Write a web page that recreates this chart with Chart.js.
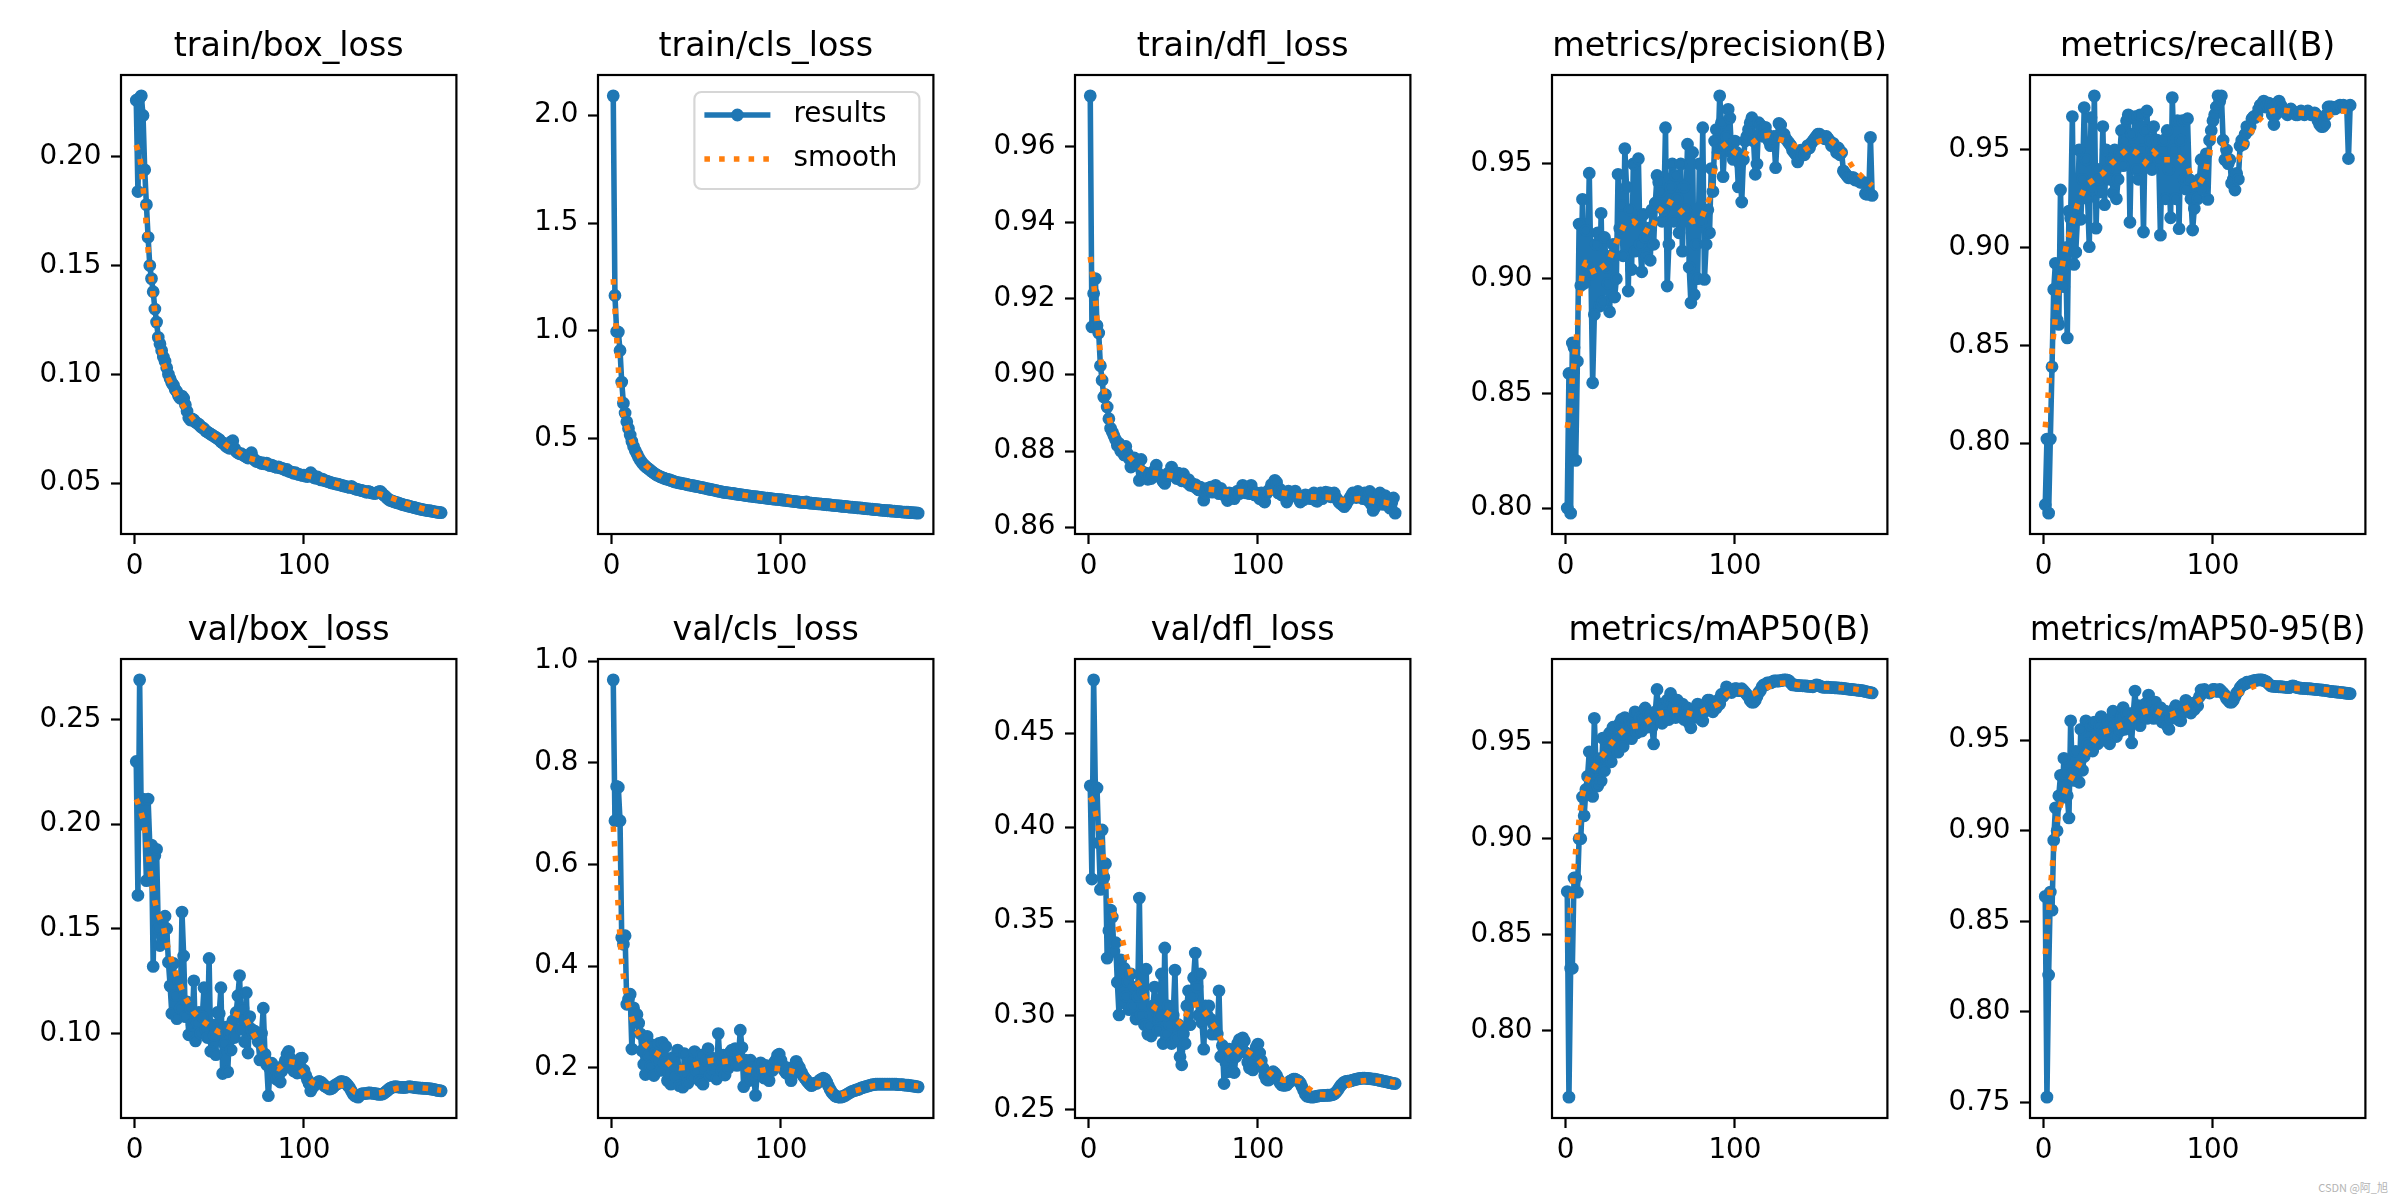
<!DOCTYPE html>
<html>
<head>
<meta charset="utf-8">
<script src="https://cdn.jsdelivr.net/npm/chart.js@4.4.1/dist/chart.umd.min.js"></script>
<style>
  html, body { margin: 0; padding: 0; background: #fff; }
  #fig { position: relative; width: 2400px; height: 1200px; overflow: hidden; background: #fff; }
  #fig canvas { position: absolute; }
  .mark { position: absolute; right: 12px; bottom: 5px; font: 11px "Noto Sans CJK SC", "DejaVu Sans", sans-serif; color: #b4b4b4; }
</style>
</head>
<body>
<div id="fig"><div class="mark">CSDN @阿_旭</div></div>
<script>
// epochs 1..181, smooth curve read at fewer epochs
const epochs = [];
for (let e = 1; e <= 181; e++) epochs.push(e);
const smoothEpochs = [1, 2, 3, 4, 5, 6, 8, 10, 12, 14, 17, 20, 25, 30, 35, 40, 45, 50, 55, 60, 65, 70, 75, 80,
  85, 90, 95, 100, 105, 110, 115, 120, 125, 130, 135, 140, 145, 150, 155, 160, 165, 170, 175, 181];

const titles = ['train/box_loss', 'train/cls_loss', 'train/dfl_loss', 'metrics/precision(B)', 'metrics/recall(B)',
  'val/box_loss', 'val/cls_loss', 'val/dfl_loss', 'metrics/mAP50(B)', 'metrics/mAP50-95(B)'];

const xTickLabels = ['0', '100'];

const trainBoxLoss = [
  0.226, 0.184, 0.227, 0.228, 0.219, 0.194, 0.178, 0.163, 0.150, 0.144,
  0.138, 0.130, 0.124, 0.117, 0.114, 0.111, 0.108, 0.106, 0.103, 0.100,
  0.098, 0.096, 0.095, 0.093, 0.092, 0.090, 0.089, 0.090, 0.089, 0.086,
  0.083, 0.080, 0.079, 0.0795, 0.079, 0.078, 0.0775, 0.077, 0.076, 0.0755,
  0.075, 0.074, 0.0735, 0.073, 0.0725, 0.072, 0.0715, 0.071, 0.0705, 0.070,
  0.069, 0.0685, 0.068, 0.067, 0.0665, 0.066, 0.069, 0.0695, 0.066, 0.0645,
  0.064, 0.0635, 0.0635, 0.063, 0.0625, 0.062, 0.0615, 0.0625, 0.064, 0.0615,
  0.0605, 0.060, 0.0598, 0.0595, 0.059, 0.0593, 0.0588, 0.0592, 0.0585, 0.058,
  0.0583, 0.0578, 0.0575, 0.0572, 0.0575, 0.057, 0.0568, 0.0565, 0.056, 0.0563,
  0.0555, 0.0552, 0.055, 0.0545, 0.0548, 0.0542, 0.054, 0.0538, 0.0535, 0.0537,
  0.0532, 0.053, 0.0533, 0.0548, 0.0538, 0.0525, 0.0522, 0.0528, 0.052, 0.0515,
  0.0518, 0.0512, 0.051, 0.0508, 0.0505, 0.0502, 0.050, 0.0498, 0.0496, 0.0495,
  0.0493, 0.049, 0.0488, 0.0486, 0.0484, 0.0482, 0.048, 0.0485, 0.0478, 0.0474,
  0.0472, 0.047, 0.0468, 0.0466, 0.0464, 0.0462, 0.0458, 0.0462, 0.0458, 0.0455,
  0.0453, 0.0452, 0.0455, 0.046, 0.0462, 0.0455, 0.0445, 0.044, 0.0432, 0.0425,
  0.042, 0.0418, 0.0415, 0.0412, 0.041, 0.0408, 0.0405, 0.0402, 0.040, 0.0398,
  0.0396, 0.0394, 0.0392, 0.039, 0.0388, 0.0386, 0.0384, 0.0382, 0.038, 0.0378,
  0.0377, 0.0375, 0.0374, 0.0373, 0.0372, 0.037, 0.0369, 0.0367, 0.0366, 0.0365,
  0.0364];
const trainBoxLossSmooth = [0.2055, 0.203, 0.200, 0.195, 0.186, 0.178, 0.157, 0.143, 0.128, 0.116, 0.105, 0.098,
  0.090, 0.084, 0.079, 0.076, 0.073, 0.070, 0.067, 0.065, 0.062, 0.061, 0.060, 0.0585, 0.0575, 0.0562, 0.0548,
  0.0538, 0.0528, 0.0518, 0.0508, 0.0495, 0.0486, 0.0478, 0.0467, 0.0458, 0.045, 0.0437, 0.0422, 0.0407,
  0.0395, 0.0383, 0.0374, 0.0362];

const trainClsLoss = [
  2.09, 1.164, 0.997, 0.994, 0.909, 0.762, 0.664, 0.619, 0.578, 0.547,
  0.516, 0.487, 0.463, 0.445, 0.428, 0.412, 0.399, 0.388, 0.379, 0.371,
  0.365, 0.359, 0.352, 0.346, 0.340, 0.334, 0.330, 0.326, 0.322, 0.319,
  0.316, 0.313, 0.311, 0.309, 0.306, 0.303, 0.300, 0.298, 0.296, 0.294,
  0.293, 0.291, 0.290, 0.288, 0.286, 0.284, 0.283, 0.281, 0.280, 0.278,
  0.277, 0.275, 0.273, 0.272, 0.270, 0.268, 0.266, 0.265, 0.263, 0.262,
  0.260, 0.258, 0.256, 0.255, 0.253, 0.251, 0.250, 0.249, 0.248, 0.247,
  0.246, 0.245, 0.243, 0.242, 0.241, 0.240, 0.239, 0.238, 0.236, 0.235,
  0.234, 0.233, 0.232, 0.231, 0.230, 0.229, 0.228, 0.227, 0.226, 0.225,
  0.224, 0.223, 0.222, 0.221, 0.220, 0.219, 0.218, 0.218, 0.217, 0.216,
  0.215, 0.214, 0.213, 0.212, 0.211, 0.210, 0.209, 0.208, 0.207, 0.206,
  0.205, 0.204, 0.204, 0.203, 0.206, 0.202, 0.201, 0.200, 0.199, 0.199,
  0.198, 0.197, 0.197, 0.196, 0.195, 0.194, 0.193, 0.193, 0.192, 0.191,
  0.190, 0.189, 0.189, 0.188, 0.187, 0.186, 0.185, 0.185, 0.184, 0.183,
  0.182, 0.182, 0.181, 0.180, 0.179, 0.178, 0.178, 0.177, 0.176, 0.175,
  0.174, 0.174, 0.173, 0.172, 0.171, 0.170, 0.170, 0.169, 0.168, 0.167,
  0.167, 0.166, 0.165, 0.165, 0.164, 0.163, 0.163, 0.162, 0.161, 0.161,
  0.160, 0.159, 0.159, 0.158, 0.158, 0.157, 0.156, 0.156, 0.155, 0.155,
  0.154];
const trainClsLossSmooth = [1.24, 1.10, 0.97, 0.83, 0.70, 0.64, 0.578, 0.53, 0.488, 0.452, 0.410, 0.376,
  0.345, 0.322, 0.306, 0.295, 0.286, 0.278, 0.270, 0.262, 0.253, 0.247, 0.241, 0.235, 0.230, 0.225, 0.220,
  0.216, 0.212, 0.207, 0.203, 0.199, 0.195, 0.191, 0.188, 0.184, 0.180, 0.176, 0.172, 0.168, 0.164, 0.161,
  0.158, 0.155];

const trainDflLoss = [
  0.9733, 0.9126, 0.9214, 0.9253, 0.913, 0.911, 0.9024, 0.8986, 0.8942, 0.8948,
  0.8916, 0.8885, 0.886, 0.885, 0.884, 0.883, 0.8815, 0.882, 0.880, 0.8806,
  0.879, 0.8812, 0.8793, 0.878, 0.8758, 0.8775, 0.8782, 0.8768, 0.8762, 0.8723,
  0.8778, 0.8745, 0.8730, 0.8742, 0.8726, 0.8735, 0.8728, 0.8738, 0.8750, 0.8763,
  0.8742, 0.8735, 0.8728, 0.8720, 0.8715, 0.8730, 0.8742, 0.8738, 0.8758, 0.8745,
  0.8735, 0.8728, 0.8742, 0.8730, 0.8722, 0.8740, 0.8728, 0.8718, 0.8725, 0.8710,
  0.8715, 0.8708, 0.8712, 0.8702, 0.8698, 0.8705, 0.8695, 0.8671, 0.8690, 0.8702,
  0.8698, 0.8705, 0.8692, 0.8700, 0.8710, 0.8695, 0.8688, 0.8702, 0.8692, 0.8685,
  0.8680, 0.8670, 0.8690, 0.8682, 0.8688, 0.8675, 0.8690, 0.8695, 0.8688, 0.8698,
  0.8710, 0.8702, 0.8690, 0.8705, 0.8688, 0.8710, 0.8695, 0.8685, 0.8690, 0.8682,
  0.8675, 0.8690, 0.8670, 0.8666, 0.8688, 0.8695, 0.8700, 0.8712, 0.8705, 0.8723,
  0.8718, 0.8690, 0.8700, 0.8685, 0.8692, 0.8680, 0.8666, 0.8695, 0.8690, 0.8685,
  0.8688, 0.8695, 0.8682, 0.8675, 0.8666, 0.8680, 0.8672, 0.8685, 0.8678, 0.8682,
  0.8675, 0.8685, 0.8690, 0.8670, 0.8668, 0.8680, 0.8690, 0.8675, 0.8685, 0.8692,
  0.8688, 0.8690, 0.8680, 0.8684, 0.8690, 0.8678, 0.8672, 0.8665, 0.8662, 0.8658,
  0.8654, 0.8660, 0.8668, 0.8675, 0.8682, 0.8690, 0.8685, 0.8678, 0.8694, 0.8688,
  0.8680, 0.8675, 0.8690, 0.8685, 0.8670, 0.8694, 0.8660, 0.8644, 0.8652, 0.8662,
  0.8675, 0.8690, 0.8668, 0.8660, 0.8683, 0.8670, 0.8658, 0.8650, 0.8665, 0.8677,
  0.8637];
const trainDflLossSmooth = [0.931, 0.9275, 0.924, 0.920, 0.9144, 0.9104, 0.901, 0.8935, 0.889, 0.8855, 0.8825, 0.8808,
  0.878, 0.8758, 0.8745, 0.8742, 0.8738, 0.8734, 0.8724, 0.8714, 0.8705, 0.870, 0.8698, 0.8694, 0.8692, 0.8694,
  0.8692, 0.8688, 0.869, 0.8694, 0.869, 0.8685, 0.8682, 0.868, 0.8679, 0.8679, 0.8677, 0.867, 0.8672, 0.8675,
  0.8671, 0.8667, 0.8665, 0.8658];

const precisionB = [
  0.800, 0.8587, 0.7978, 0.872, 0.870, 0.8208, 0.864, 0.9238, 0.897, 0.9346,
  0.898, 0.921, 0.905, 0.946, 0.902, 0.8546, 0.8844, 0.915, 0.920, 0.888,
  0.9285, 0.890, 0.918, 0.905, 0.898, 0.8856, 0.910, 0.915, 0.892, 0.900,
  0.9455, 0.922, 0.932, 0.910, 0.9567, 0.940, 0.8946, 0.930, 0.904, 0.950,
  0.912, 0.925, 0.9523, 0.915, 0.903, 0.928, 0.918, 0.910, 0.922, 0.908,
  0.930, 0.915, 0.933, 0.945, 0.942, 0.938, 0.925, 0.930, 0.9658, 0.8968,
  0.915, 0.940, 0.950, 0.925, 0.945, 0.935, 0.920, 0.950, 0.912, 0.940,
  0.930, 0.9586, 0.905, 0.8895, 0.955, 0.893, 0.915, 0.900, 0.950, 0.925,
  0.9658, 0.8997, 0.915, 0.930, 0.920, 0.948, 0.938, 0.960, 0.965, 0.955,
  0.9797, 0.968, 0.9445, 0.958, 0.962, 0.9738, 0.970, 0.955, 0.952, 0.960,
  0.955, 0.940, 0.950, 0.9334, 0.952, 0.960, 0.962, 0.965, 0.968, 0.9702,
  0.960, 0.9455, 0.950, 0.968, 0.967, 0.965, 0.962, 0.966, 0.963, 0.960,
  0.958, 0.960, 0.962, 0.9484, 0.962, 0.9677, 0.967, 0.962, 0.963, 0.961,
  0.960, 0.959, 0.958, 0.956, 0.955, 0.954, 0.9509, 0.953, 0.956, 0.955,
  0.954, 0.956, 0.958, 0.957, 0.959, 0.960, 0.961, 0.962, 0.963, 0.963,
  0.962, 0.962, 0.961, 0.962, 0.961, 0.960, 0.958, 0.959, 0.957, 0.955,
  0.957, 0.954, 0.955, 0.947, 0.946, 0.945, 0.944, 0.944, 0.944, 0.944,
  0.943, 0.943, 0.943, 0.942, 0.942, 0.942, 0.937, 0.9368, 0.937, 0.9616,
  0.9363];
const precisionBSmooth = [0.835, 0.840, 0.846, 0.857, 0.863, 0.871, 0.889, 0.904, 0.907, 0.907, 0.902, 0.904,
  0.907, 0.916, 0.924, 0.925, 0.922, 0.920, 0.929, 0.934, 0.932, 0.928, 0.925, 0.926, 0.935, 0.956, 0.959,
  0.955, 0.953, 0.959, 0.962, 0.9625, 0.961, 0.960, 0.958, 0.9555, 0.958, 0.960, 0.961, 0.958, 0.954, 0.948,
  0.9445, 0.9405];

const recallB = [
  0.7684, 0.802, 0.7641, 0.802, 0.839, 0.8786, 0.892, 0.863, 0.8607, 0.9295,
  0.8888, 0.880, 0.900, 0.8538, 0.9187, 0.915, 0.9671, 0.8914, 0.8977, 0.9145,
  0.950, 0.9145, 0.935, 0.9717, 0.945, 0.925, 0.9005, 0.9666, 0.930, 0.9777,
  0.910, 0.940, 0.935, 0.9285, 0.962, 0.922, 0.950, 0.940, 0.935, 0.945,
  0.928, 0.950, 0.925, 0.935, 0.948, 0.960, 0.942, 0.955, 0.965, 0.968,
  0.913, 0.958, 0.950, 0.967, 0.940, 0.935, 0.968, 0.950, 0.908, 0.960,
  0.970, 0.945, 0.955, 0.940, 0.962, 0.950, 0.955, 0.945, 0.9064, 0.950,
  0.955, 0.925, 0.960, 0.940, 0.9153, 0.9768, 0.950, 0.925, 0.965, 0.9097,
  0.955, 0.965, 0.935, 0.930, 0.966, 0.935, 0.925, 0.909, 0.920, 0.932,
  0.925, 0.935, 0.945, 0.930, 0.937, 0.948, 0.9247, 0.955, 0.960, 0.965,
  0.968, 0.972, 0.9777, 0.975, 0.9777, 0.955, 0.945, 0.950, 0.943, 0.945,
  0.933, 0.935, 0.9295, 0.938, 0.935, 0.952, 0.955, 0.953, 0.958, 0.962,
  0.960, 0.962, 0.966, 0.967, 0.9666, 0.968, 0.971, 0.973, 0.9734, 0.975,
  0.972, 0.973, 0.974, 0.972, 0.968, 0.963, 0.968, 0.974, 0.975, 0.973,
  0.971, 0.970, 0.969, 0.968, 0.969, 0.971, 0.970, 0.969, 0.968, 0.968,
  0.969, 0.970, 0.969, 0.968, 0.969, 0.970, 0.969, 0.968, 0.968, 0.969,
  0.968, 0.965, 0.963, 0.962, 0.962, 0.963, 0.968, 0.972, 0.972, 0.972,
  0.971, 0.971, 0.972, 0.972, 0.973, 0.972, 0.973, 0.972, 0.972, 0.9456,
  0.9729];
const recallBSmooth = [0.808, 0.817, 0.828, 0.838, 0.847, 0.856, 0.873, 0.886, 0.895, 0.903, 0.913, 0.922,
  0.932, 0.935, 0.938, 0.943, 0.947, 0.951, 0.9486, 0.9435, 0.949, 0.945, 0.945, 0.946, 0.942, 0.930, 0.937,
  0.956, 0.956, 0.944, 0.945, 0.955, 0.963, 0.968, 0.970, 0.9705, 0.970, 0.969, 0.9688, 0.9686, 0.967, 0.968,
  0.970, 0.9695];

const valBoxLoss = [
  0.230, 0.166, 0.269, 0.200, 0.212, 0.202, 0.173, 0.212, 0.190, 0.190,
  0.132, 0.185, 0.188, 0.150, 0.142, 0.155, 0.146, 0.156, 0.150, 0.134,
  0.1227, 0.1095, 0.1334, 0.118, 0.107, 0.125, 0.112, 0.158, 0.137, 0.108,
  0.115, 0.0993, 0.112, 0.104, 0.1251, 0.0964, 0.105, 0.110, 0.100, 0.108,
  0.1218, 0.102, 0.098, 0.1358, 0.0914, 0.104, 0.099, 0.0898, 0.110, 0.1095,
  0.1218, 0.0808, 0.095, 0.103, 0.0816, 0.100, 0.092, 0.106, 0.098, 0.110,
  0.118, 0.1276, 0.102, 0.112, 0.096, 0.1194, 0.0906, 0.108, 0.102, 0.100,
  0.101, 0.099, 0.096, 0.0873, 0.100, 0.112, 0.090, 0.085, 0.0702, 0.083,
  0.0857, 0.080, 0.083, 0.078, 0.080, 0.0767, 0.082, 0.085, 0.087, 0.090,
  0.0914, 0.088, 0.084, 0.082, 0.086, 0.081, 0.085, 0.088, 0.0881, 0.0824,
  0.080, 0.078, 0.076, 0.0725, 0.074, 0.075, 0.076, 0.0765, 0.077, 0.0767,
  0.076, 0.075, 0.0745, 0.074, 0.0734, 0.0735, 0.074, 0.075, 0.0755, 0.076,
  0.0765, 0.077, 0.0768, 0.0767, 0.076, 0.075, 0.074, 0.0725, 0.071, 0.0702,
  0.0698, 0.0695, 0.0705, 0.071, 0.0712, 0.0712, 0.0713, 0.0715, 0.0715, 0.0714,
  0.0713, 0.0712, 0.071, 0.0709, 0.0708, 0.0709, 0.0712, 0.0718, 0.0725, 0.0732,
  0.0738, 0.0742, 0.0744, 0.0745, 0.0744, 0.0743, 0.0742, 0.0742, 0.0741, 0.0742,
  0.0743, 0.0745, 0.0744, 0.0743, 0.0742, 0.0740, 0.0739, 0.0739, 0.0738, 0.0738,
  0.0737, 0.0737, 0.0736, 0.0735, 0.0734, 0.0733, 0.0731, 0.0729, 0.0727, 0.0726,
  0.0725];
const valBoxLossSmooth = [0.212, 0.210, 0.208, 0.205, 0.2025, 0.198, 0.186, 0.172, 0.163, 0.157, 0.151, 0.140,
  0.127, 0.117, 0.110, 0.106, 0.103, 0.1005, 0.101, 0.109, 0.108, 0.100, 0.093, 0.085, 0.0832, 0.0868, 0.086,
  0.0805, 0.0765, 0.075, 0.0742, 0.075, 0.0755, 0.072, 0.0711, 0.0712, 0.0716, 0.0725, 0.0737, 0.0741, 0.0741,
  0.0739, 0.0735, 0.0727];

const valClsLoss = [
  0.963, 0.686, 0.7535, 0.752, 0.686, 0.4565, 0.443, 0.460, 0.325, 0.335,
  0.345, 0.237, 0.318, 0.305, 0.305, 0.288, 0.267, 0.234, 0.207, 0.187,
  0.262, 0.225, 0.203, 0.245, 0.185, 0.230, 0.215, 0.248, 0.195, 0.250,
  0.210, 0.242, 0.175, 0.190, 0.168, 0.220, 0.200, 0.182, 0.235, 0.165,
  0.195, 0.162, 0.228, 0.188, 0.170, 0.205, 0.215, 0.180, 0.232, 0.195,
  0.210, 0.175, 0.225, 0.168, 0.200, 0.215, 0.238, 0.185, 0.220, 0.195,
  0.205, 0.178, 0.2674, 0.212, 0.195, 0.225, 0.186, 0.215, 0.200, 0.230,
  0.235, 0.210, 0.238, 0.205, 0.225, 0.274, 0.240, 0.163, 0.215, 0.195,
  0.175, 0.215, 0.200, 0.180, 0.146, 0.190, 0.205, 0.210, 0.195, 0.180,
  0.205, 0.190, 0.175, 0.200, 0.195, 0.210, 0.215, 0.225, 0.227, 0.215,
  0.205, 0.195, 0.190, 0.200, 0.185, 0.175, 0.190, 0.200, 0.213, 0.205,
  0.200, 0.192, 0.185, 0.180, 0.176, 0.172, 0.168, 0.165, 0.167, 0.170,
  0.1695, 0.172, 0.176, 0.178, 0.180, 0.178, 0.172, 0.165, 0.158, 0.152,
  0.148, 0.145, 0.1435, 0.1428, 0.1425, 0.143, 0.1445, 0.146, 0.148, 0.150,
  0.152, 0.154, 0.155, 0.156, 0.157, 0.158, 0.160, 0.161, 0.162, 0.163,
  0.164, 0.165, 0.166, 0.167, 0.167, 0.168, 0.168, 0.168, 0.168, 0.168,
  0.168, 0.168, 0.168, 0.168, 0.168, 0.168, 0.168, 0.168, 0.167, 0.167,
  0.167, 0.167, 0.166, 0.166, 0.166, 0.165, 0.165, 0.164, 0.164, 0.163,
  0.1627];
const valClsLossSmooth = [0.675, 0.629, 0.578, 0.51, 0.4565, 0.405, 0.355, 0.322, 0.297, 0.277, 0.261, 0.245,
  0.232, 0.222, 0.204, 0.200, 0.201, 0.207, 0.212, 0.215, 0.212, 0.214, 0.219, 0.197, 0.193, 0.196, 0.200,
  0.198, 0.195, 0.190, 0.178, 0.170, 0.168, 0.155, 0.147, 0.152, 0.156, 0.161, 0.165, 0.166, 0.166, 0.166,
  0.166, 0.164];

const valDflLoss = [
  0.422, 0.3724, 0.4783, 0.4213, 0.4208, 0.3916, 0.3669, 0.3985, 0.3733, 0.3806,
  0.3304, 0.345, 0.3559, 0.3523, 0.334, 0.3386, 0.3176, 0.3002, 0.3295, 0.3066,
  0.325, 0.310, 0.318, 0.303, 0.322, 0.305, 0.315, 0.298, 0.310, 0.3623,
  0.300, 0.312, 0.295, 0.3245, 0.290, 0.2945, 0.289, 0.305, 0.315, 0.298,
  0.292, 0.300, 0.322, 0.285, 0.3358, 0.290, 0.305, 0.295, 0.285, 0.300,
  0.324, 0.288, 0.295, 0.278, 0.2737, 0.290, 0.285, 0.305, 0.313, 0.295,
  0.310, 0.320, 0.3331, 0.315, 0.300, 0.322, 0.296, 0.282, 0.305, 0.300,
  0.305, 0.298, 0.290, 0.295, 0.296, 0.290, 0.313, 0.278, 0.284, 0.2637,
  0.275, 0.270, 0.282, 0.278, 0.270, 0.2696, 0.278, 0.285, 0.287, 0.282,
  0.288, 0.2865, 0.280, 0.275, 0.272, 0.275, 0.271, 0.280, 0.283, 0.2847,
  0.280, 0.276, 0.272, 0.268, 0.266, 0.2655, 0.266, 0.268, 0.270, 0.2692,
  0.268, 0.266, 0.264, 0.263, 0.2628, 0.2628, 0.263, 0.264, 0.265, 0.2655,
  0.266, 0.266, 0.2655, 0.265, 0.264, 0.262, 0.260, 0.258, 0.257, 0.2568,
  0.2566, 0.2565, 0.2566, 0.2568, 0.257, 0.2572, 0.2573, 0.2573, 0.2574, 0.2574,
  0.2575, 0.2575, 0.2576, 0.2578, 0.2582, 0.259, 0.2602, 0.2615, 0.2628, 0.2638,
  0.2645, 0.2648, 0.265, 0.265, 0.2652, 0.2655, 0.2658, 0.266, 0.2662, 0.2664,
  0.2665, 0.2666, 0.2666, 0.2665, 0.2664, 0.2663, 0.2662, 0.2661, 0.266, 0.2658,
  0.2656, 0.2654, 0.2652, 0.265, 0.2648, 0.2646, 0.2644, 0.2642, 0.264, 0.2638,
  0.2637];
const valDflLossSmooth = [0.416, 0.4144, 0.411, 0.408, 0.404, 0.399, 0.390, 0.375, 0.364, 0.356, 0.348, 0.340,
  0.322, 0.316, 0.307, 0.3035, 0.302, 0.299, 0.295, 0.305, 0.306, 0.300, 0.293, 0.284, 0.278, 0.283, 0.280,
  0.2765, 0.271, 0.267, 0.2655, 0.2655, 0.265, 0.261, 0.258, 0.2577, 0.2582, 0.261, 0.2637, 0.265, 0.2655,
  0.2655, 0.2651, 0.2642];

const map50B = [
  0.8725, 0.7656, 0.8326, 0.8326, 0.8796, 0.8796, 0.8722, 0.900, 0.900, 0.9217,
  0.9119, 0.9256, 0.9324, 0.9452, 0.9336, 0.922, 0.9626, 0.9372, 0.9274, 0.9416,
  0.930, 0.9523, 0.9354, 0.9416, 0.945, 0.955, 0.940, 0.958, 0.948, 0.952,
  0.945, 0.960, 0.962, 0.948, 0.963, 0.955, 0.958, 0.962, 0.952, 0.960,
  0.966, 0.955, 0.958, 0.963, 0.956, 0.962, 0.968, 0.958, 0.965, 0.962,
  0.958, 0.9493, 0.966, 0.9776, 0.962, 0.970, 0.960, 0.968, 0.965, 0.972,
  0.962, 0.9755, 0.970, 0.968, 0.963, 0.972, 0.968, 0.965, 0.970, 0.962,
  0.965, 0.968, 0.960, 0.9577, 0.963, 0.966, 0.968, 0.970, 0.965, 0.962,
  0.9612, 0.966, 0.970, 0.972, 0.972, 0.968, 0.966, 0.970, 0.968, 0.972,
  0.970, 0.975, 0.974, 0.976, 0.979, 0.977, 0.977, 0.976, 0.977, 0.978,
  0.978, 0.977, 0.977, 0.978, 0.977, 0.976, 0.975, 0.974, 0.972, 0.971,
  0.971, 0.972, 0.974, 0.976, 0.977, 0.979, 0.980, 0.980, 0.981, 0.981,
  0.981, 0.9815, 0.982, 0.982, 0.982, 0.982, 0.9822, 0.9824, 0.9826, 0.9826,
  0.9825, 0.982, 0.981, 0.980, 0.980, 0.9798, 0.9797, 0.9796, 0.9796, 0.9795,
  0.9795, 0.9794, 0.9793, 0.9792, 0.9792, 0.979, 0.9795, 0.980, 0.9798, 0.9795,
  0.979, 0.9788, 0.9787, 0.9788, 0.9788, 0.9787, 0.9786, 0.9786, 0.9785, 0.9784,
  0.9784, 0.9783, 0.9783, 0.9782, 0.978, 0.9779, 0.9778, 0.9777, 0.9776, 0.9775,
  0.9774, 0.9773, 0.9772, 0.9771, 0.977, 0.9768, 0.9766, 0.9764, 0.9762, 0.976,
  0.9758];
const map50BSmooth = [0.846, 0.855, 0.865, 0.875, 0.885, 0.894, 0.910, 0.923, 0.929, 0.933, 0.937, 0.941,
  0.947, 0.953, 0.957, 0.9585, 0.959, 0.962, 0.965, 0.966, 0.967, 0.966, 0.9645, 0.966, 0.968, 0.970, 0.975,
  0.9765, 0.9762, 0.975, 0.977, 0.979, 0.9808, 0.981, 0.9802, 0.9795, 0.9793, 0.979, 0.9788, 0.9786, 0.9783,
  0.9778, 0.9772, 0.9763];

const map5095B = [
  0.8638, 0.753, 0.8204, 0.8662, 0.8562, 0.8948, 0.9127, 0.900, 0.9193, 0.9306,
  0.9184, 0.940, 0.9315, 0.9193, 0.9071, 0.9607, 0.9315, 0.9278, 0.9438, 0.9334,
  0.9268, 0.956, 0.9334, 0.941, 0.9607, 0.948, 0.945, 0.958, 0.944, 0.960,
  0.952, 0.948, 0.958, 0.963, 0.955, 0.950, 0.958, 0.960, 0.948, 0.962,
  0.966, 0.958, 0.952, 0.960, 0.955, 0.963, 0.968, 0.956, 0.965, 0.960,
  0.958, 0.9485, 0.965, 0.9771, 0.960, 0.969, 0.958, 0.966, 0.963, 0.970,
  0.962, 0.9749, 0.970, 0.966, 0.962, 0.971, 0.967, 0.964, 0.968, 0.960,
  0.963, 0.966, 0.958, 0.956, 0.962, 0.965, 0.967, 0.969, 0.964, 0.961,
  0.9607, 0.965, 0.969, 0.972, 0.971, 0.967, 0.965, 0.969, 0.967, 0.971,
  0.969, 0.974, 0.9777, 0.976, 0.978, 0.977, 0.977, 0.976, 0.977, 0.978,
  0.978, 0.977, 0.977, 0.978, 0.977, 0.976, 0.975, 0.973, 0.972, 0.971,
  0.971, 0.972, 0.974, 0.976, 0.977, 0.979, 0.980, 0.981, 0.981, 0.982,
  0.982, 0.9822, 0.9825, 0.9828, 0.983, 0.9832, 0.9833, 0.9833, 0.9833, 0.983,
  0.9826, 0.982, 0.981, 0.980, 0.9798, 0.9797, 0.9796, 0.9796, 0.9795, 0.9795,
  0.9794, 0.9793, 0.9792, 0.9791, 0.979, 0.9795, 0.980, 0.9798, 0.9793, 0.979,
  0.9788, 0.9787, 0.9786, 0.9786, 0.9785, 0.9784, 0.9784, 0.9783, 0.9782, 0.9781,
  0.978, 0.9779, 0.9778, 0.9777, 0.9776, 0.9775, 0.9774, 0.9772, 0.977, 0.9769,
  0.9768, 0.9767, 0.9766, 0.9765, 0.9764, 0.9763, 0.9762, 0.976, 0.9759, 0.9758,
  0.9757];
const map5095BSmooth = [0.832, 0.843, 0.8553, 0.868, 0.879, 0.889, 0.905, 0.914, 0.920, 0.925, 0.930, 0.935,
  0.943, 0.950, 0.9545, 0.9558, 0.958, 0.960, 0.964, 0.966, 0.967, 0.9645, 0.964, 0.966, 0.968, 0.971, 0.974,
  0.9755, 0.976, 0.974, 0.9755, 0.978, 0.980, 0.9808, 0.980, 0.979, 0.9787, 0.9786, 0.9785, 0.9783, 0.978,
  0.9775, 0.977, 0.9763];

// y tick labels per panel
const yTicksTrainBox = ['0.05', '0.10', '0.15', '0.20'];
const yTicksTrainCls = ['0.5', '1.0', '1.5', '2.0'];
const yTicksTrainDfl = ['0.86', '0.88', '0.90', '0.92', '0.94', '0.96'];
const yTicksPrecision = ['0.80', '0.85', '0.90', '0.95'];
const yTicksRecall = ['0.80', '0.85', '0.90', '0.95'];
const yTicksValBox = ['0.10', '0.15', '0.20', '0.25'];
const yTicksValCls = ['0.2', '0.4', '0.6', '0.8', '1.0'];
const yTicksValDfl = ['0.25', '0.30', '0.35', '0.40', '0.45'];
const yTicksMap50 = ['0.80', '0.85', '0.90', '0.95'];
const yTicksMap5095 = ['0.75', '0.80', '0.85', '0.90', '0.95'];

const panels = [
  [trainBoxLoss, trainBoxLossSmooth, yTicksTrainBox],
  [trainClsLoss, trainClsLossSmooth, yTicksTrainCls],
  [trainDflLoss, trainDflLossSmooth, yTicksTrainDfl],
  [precisionB, precisionBSmooth, yTicksPrecision],
  [recallB, recallBSmooth, yTicksRecall],
  [valBoxLoss, valBoxLossSmooth, yTicksValBox],
  [valClsLoss, valClsLossSmooth, yTicksValCls],
  [valDflLoss, valDflLossSmooth, yTicksValDfl],
  [map50B, map50BSmooth, yTicksMap50],
  [map5095B, map5095BSmooth, yTicksMap5095],
];

const axLeft = [121, 598, 1075, 1552, 2030];
const axTop = [75, 659];
const axW = 337, axH = 459;
const yAxisW = 100, titleH = 60, xAxisH = 60, padR = 6;

const BLUE = '#1f77b4', ORANGE = '#ff7f0e';
const LW = 5.56;                // 2pt @ 200dpi
const TICK_FONT = 27.8;         // 10pt
const TITLE_FONT = 33.3;        // 12pt

Chart.defaults.font.family = "'DejaVu Sans', sans-serif";
Chart.defaults.color = '#000';

function padded(lo, hi) {
  const m = (hi - lo) * 0.05;
  return [lo - m, hi + m];
}

const frame = {
  id: 'frame',
  afterDatasetsDraw(chart) {
    const { ctx, chartArea: a } = chart;
    ctx.save();
    ctx.strokeStyle = '#000';
    ctx.lineWidth = 2.2;
    ctx.strokeRect(a.left, a.top, a.right - a.left, a.bottom - a.top);
    ctx.restore();
  }
};

const mplLegend = {
  id: 'mplLegend',
  afterDraw(chart, args, opts) {
    if (!opts.show) return;
    const { ctx, chartArea: a } = chart;
    const w = 225, h = 97;
    const x0 = a.right - 14 - w, y0 = a.top + 17;
    ctx.save();
    ctx.beginPath();
    ctx.roundRect(x0, y0, w, h, 7);
    ctx.fillStyle = 'rgba(255,255,255,0.8)';
    ctx.fill();
    ctx.lineWidth = 2.2;
    ctx.strokeStyle = 'rgba(204,204,204,0.8)';
    ctx.stroke();

    const ds = chart.data.datasets;
    const res = ds.find(d => d.label === 'results');
    const sm = ds.find(d => d.label === 'smooth');
    const lx0 = x0 + 10, lx1 = x0 + 76;
    const r1 = y0 + 23, r2 = y0 + 67;

    ctx.lineCap = 'butt';
    ctx.strokeStyle = res.borderColor;
    ctx.lineWidth = res.borderWidth;
    ctx.beginPath(); ctx.moveTo(lx0, r1); ctx.lineTo(lx1, r1); ctx.stroke();
    ctx.beginPath();
    ctx.arc((lx0 + lx1) / 2, r1, res.pointRadius, 0, Math.PI * 2);
    ctx.fillStyle = res.pointBackgroundColor; ctx.fill();
    ctx.lineWidth = res.pointBorderWidth; ctx.stroke();

    ctx.strokeStyle = sm.borderColor;
    ctx.lineWidth = sm.borderWidth;
    ctx.setLineDash(sm.borderDash);
    ctx.beginPath(); ctx.moveTo(lx0, r2); ctx.lineTo(lx1, r2); ctx.stroke();
    ctx.setLineDash([]);

    ctx.fillStyle = '#000';
    ctx.font = TICK_FONT + "px 'DejaVu Sans', sans-serif";
    ctx.textBaseline = 'middle';
    ctx.textAlign = 'left';
    ctx.fillText(res.label, x0 + 99, r1);
    ctx.fillText(sm.label, x0 + 99, r2);
    ctx.restore();
  }
};

const fig = document.getElementById('fig');
const xr = padded(epochs[0], epochs[epochs.length - 1]);

panels.forEach(([vals, smooth, yLabels], i) => {
  const col = i % 5, row = Math.floor(i / 5);
  const cv = document.createElement('canvas');
  const cw = yAxisW + axW + padR, ch = titleH + axH + xAxisH;
  cv.width = cw; cv.height = ch;
  cv.style.left = (axLeft[col] - yAxisW) + 'px';
  cv.style.top = (axTop[row] - titleH) + 'px';
  cv.style.width = cw + 'px'; cv.style.height = ch + 'px';
  fig.appendChild(cv);

  const yr = padded(Math.min(...vals, ...smooth), Math.max(...vals, ...smooth));

  new Chart(cv, {
    type: 'line',
    data: {
      datasets: [
        {
          label: 'smooth',
          data: smoothEpochs.map((e, k) => ({ x: e, y: smooth[k] })),
          borderColor: ORANGE, borderWidth: LW, borderDash: [5.56, 9.17], borderCapStyle: 'butt',
          pointRadius: 0, tension: 0, order: 0
        },
        {
          label: 'results',
          data: epochs.map((e, k) => ({ x: e, y: vals[k] })),
          borderColor: BLUE, borderWidth: LW, borderJoinStyle: 'round',
          pointRadius: 5.2, pointBorderWidth: 2.4,
          pointBackgroundColor: BLUE, pointBorderColor: BLUE,
          tension: 0, order: 1
        }
      ]
    },
    options: {
      responsive: false,
      devicePixelRatio: 1,
      animation: false,
      events: [],
      layout: { padding: { left: 0, right: padR, top: 0, bottom: 0 } },
      plugins: {
        legend: { display: false },
        tooltip: { enabled: false },
        title: {
          display: true, text: titles[i], fullSize: false, color: '#000',
          font: { size: TITLE_FONT, weight: 'normal', lineHeight: '40px' },
          padding: { top: 12, bottom: 8 }
        },
        mplLegend: { show: i === 1 }
      },
      scales: {
        x: {
          type: 'linear', min: xr[0], max: xr[1],
          afterBuildTicks: s => { s.ticks = xTickLabels.map(t => ({ value: Number(t) })); },
          afterFit: s => { s.height = xAxisH; },
          border: { display: false },
          grid: { drawOnChartArea: false, drawTicks: true, tickLength: 10, tickWidth: 2.2, tickColor: '#000' },
          ticks: { callback: (v, k) => xTickLabels[k], autoSkip: false, maxRotation: 0, padding: 6,
                   color: '#000', font: { size: TICK_FONT } }
        },
        y: {
          type: 'linear', min: yr[0], max: yr[1],
          afterBuildTicks: s => { s.ticks = yLabels.map(t => ({ value: Number(t) })); },
          afterFit: s => { s.width = yAxisW; },
          border: { display: false },
          grid: { drawOnChartArea: false, drawTicks: true, tickLength: 10, tickWidth: 2.2, tickColor: '#000' },
          ticks: { callback: (v, k) => yLabels[k], autoSkip: false, padding: 9.5,
                   color: '#000', font: { size: TICK_FONT } }
        }
      }
    },
    plugins: [frame, mplLegend]
  });
});
</script>
</body>
</html>
